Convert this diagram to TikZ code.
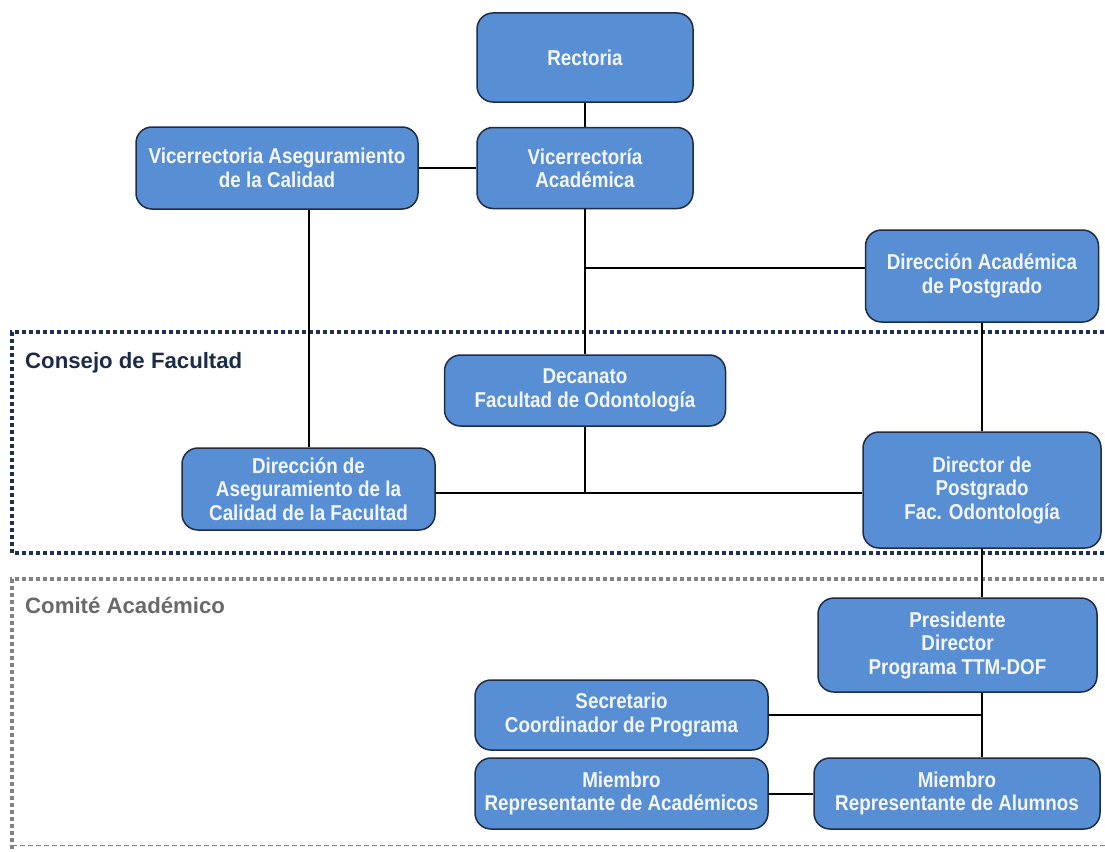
\documentclass[tikz,border=0pt]{standalone}
\usepackage{fontspec}
\setmainfont{Liberation Sans}
\newfontfamily\boxfont[FakeStretch=0.875]{Liberation Sans}
\definecolor{boxfill}{RGB}{88,142,212}
\definecolor{boxline}{RGB}{30,44,72}
\definecolor{boxtext}{RGB}{243,246,251}
\definecolor{navy}{RGB}{28,43,72}
\definecolor{navydot}{RGB}{32,48,84}
\definecolor{greytext}{RGB}{105,105,105}
\definecolor{greydot}{RGB}{130,130,130}
\tikzset{
  orgbox/.style={draw=boxline, line width=1.5pt, fill=boxfill, rounded corners=16pt,
    inner sep=0pt, align=center, text=boxtext,
    font=\boxfont\bfseries\fontsize{21.5}{23.5}\selectfont},
  link/.style={draw=black, line width=2pt},
  grouplabel/.style={anchor=base west, inner sep=0pt, font=\bfseries\fontsize{22.2}{25}\selectfont},
  navyframe/.style={draw=navydot, line width=4.5pt, dash pattern=on 4pt off 3pt},
  greyframe/.style={draw=greydot, line width=4.5pt, dash pattern=on 4pt off 3pt},
  thindash/.style={draw=greydot, line width=1pt, dash pattern=on 5pt off 3pt}
}
\begin{document}
\begin{tikzpicture}[x=1pt,y=-1pt]
\useasboundingbox (0,0) rectangle (1105,851);
\clip (0,0) rectangle (1105,851);
\fill[white] (0,0) rectangle (1105,851);
% group frames
\draw[navyframe] (1125,332) -- (12,332) -- (12,553) -- (1125,553);
\draw[greyframe] (1125,579) -- (12,579) -- (12,860);
\draw[thindash] (12,845) -- (1125,845);
\node[grouplabel, text=navy] (consejo) at (25,368) {Consejo de Facultad};
\node[grouplabel, text=greytext] (comite) at (25,613) {Comité Académico};
% junctions
\coordinate (jdap) at (585,268);
\coordinate (jdec) at (585,493);
\coordinate (jsec) at (982,715);
% boxes
\node[orgbox, minimum width=216pt, minimum height=89pt] (rect) at (585,57.5) {Rectoria};
\node[orgbox, minimum width=216pt, minimum height=81pt] (vacad) at (585,168) {Vicerrectoría\\Académica};
\node[orgbox, minimum width=282pt, minimum height=82pt] (vaseg) at (277,168) {Vicerrectoria Aseguramiento\\de la Calidad};
\node[orgbox, minimum width=233pt, minimum height=92pt] (dap) at (982,276) {Dirección Académica\\de Postgrado};
\node[orgbox, minimum width=281pt, minimum height=71pt] (dec) at (585,390.5) {Decanato\\Facultad de Odontología};
\node[orgbox, minimum width=253pt, minimum height=82pt] (dasf) at (308.5,489) {Dirección de\\Aseguramiento de la\\Calidad de la Facultad};
\node[orgbox, minimum width=238pt, minimum height=116pt] (dpf) at (982,490) {Director de\\Postgrado\\Fac. Odontología};
\node[orgbox, minimum width=279pt, minimum height=94pt] (pres) at (957.5,645) {Presidente\\Director\\Programa TTM-DOF};
\node[orgbox, minimum width=293pt, minimum height=70pt] (secr) at (621.5,715) {Secretario\\Coordinador de Programa};
\node[orgbox, minimum width=293pt, minimum height=71pt] (macad) at (621.5,793.5) {Miembro\\Representante de Académicos};
\node[orgbox, minimum width=286pt, minimum height=71pt] (malum) at (957,793.5) {Miembro\\Representante de Alumnos};
% connectors
\draw[link] (rect.south) -- (vacad.north);
\draw[link] (vaseg.east) -- (vacad.west);
\draw[link] (vacad.south) -- (dec.north);
\draw[link] (jdap) -- (dap.west |- jdap);
\draw[link] (dasf.north) -- (dasf.north |- vaseg.south);
\draw[link] (dap.south) -- (dpf.north);
\draw[link] (dasf.east |- jdec) -- (dpf.west |- jdec);
\draw[link] (dec.south) -- (jdec);
\draw[link] (dpf.south -| jsec) -- (pres.north -| jsec);
\draw[link] (pres.south -| jsec) -- (malum.north -| jsec);
\draw[link] (secr.east |- jsec) -- (jsec);
\draw[link] (macad.east) -- (malum.west);
\end{tikzpicture}
\end{document}
